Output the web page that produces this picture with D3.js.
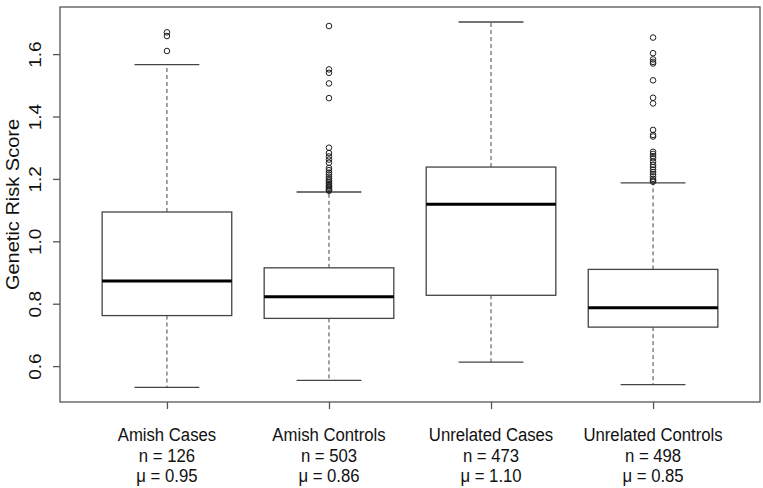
<!DOCTYPE html>
<html>
<head>
<meta charset="utf-8">
<script src="https://cdn.jsdelivr.net/npm/d3@7"></script>
<style>
  html, body { margin: 0; padding: 0; background: #fff; }
  svg { display: block; }
  text { font-family: "Liberation Sans", Arial, sans-serif; fill: #111; }
</style>
</head>
<body>
<svg id="chart" width="763" height="488"></svg>
<script>
// ---- data ----
const categories = ["Amish Cases", "Amish Controls", "Unrelated Cases", "Unrelated Controls"];
const nValues = [126, 503, 473, 498];
const meanValues = ["0.95", "0.86", "1.10", "0.85"];
const q1Values = [0.762, 0.753, 0.827, 0.725];
const medianValues = [0.873, 0.822, 1.119, 0.787];
const q3Values = [1.094, 0.915, 1.238, 0.910];
const whiskerLow = [0.532, 0.554, 0.613, 0.541];
const whiskerHigh = [1.566, 1.158, 1.703, 1.187];
const outliers = [
  [1.670, 1.658, 1.610],
  [1.690, 1.551, 1.540, 1.506, 1.459, 1.300, 1.283, 1.272, 1.262, 1.252, 1.235, 1.228,
   1.220, 1.214, 1.207, 1.200, 1.195, 1.190, 1.185, 1.180, 1.176, 1.172, 1.168, 1.165, 1.162],
  [],
  [1.653, 1.603, 1.583, 1.575, 1.570, 1.516, 1.460, 1.442, 1.357, 1.341, 1.336, 1.287,
   1.280, 1.273, 1.266, 1.255, 1.245, 1.238, 1.230, 1.222, 1.215, 1.208, 1.200, 1.195, 1.191]
];
const yTicks = [0.6, 0.8, 1.0, 1.2, 1.4, 1.6];
const yTitle = "Genetic Risk Score";

// ---- layout ----
const svg = d3.select("#chart");
const mLeft = 60, mRight = 760, mTop = 7, mBottom = 402;
const x = d3.scaleLinear().domain([0.34, 4.66]).range([mLeft, mRight]);
const y = d3.scaleLinear().domain([0.485, 1.751]).range([mBottom, mTop]);
const unit = x(2) - x(1);
const boxW = unit * 0.8;
const capW = boxW * 0.5;
const lineCol = "#444";
const squeeze = 0.88;

const groups = categories.map((c, i) => ({
  name: c, i: i + 1, n: nValues[i], mu: meanValues[i],
  q1: q1Values[i], med: medianValues[i], q3: q3Values[i],
  lo: whiskerLow[i], hi: whiskerHigh[i], out: outliers[i]
}));

const g = svg.append("g");

g.selectAll(".wh").data(groups).join("g").each(function(d) {
  const s = d3.select(this);
  const cx = x(d.i);
  s.append("line").attr("x1", cx).attr("x2", cx).attr("y1", y(d.q3)).attr("y2", y(d.hi))
    .attr("stroke", lineCol).attr("stroke-width", 1).attr("stroke-dasharray", "4,3");
  s.append("line").attr("x1", cx).attr("x2", cx).attr("y1", y(d.q1)).attr("y2", y(d.lo))
    .attr("stroke", lineCol).attr("stroke-width", 1).attr("stroke-dasharray", "4,3");
  s.append("line").attr("x1", cx - capW / 2).attr("x2", cx + capW / 2).attr("y1", y(d.hi)).attr("y2", y(d.hi))
    .attr("stroke", lineCol).attr("stroke-width", 1.3);
  s.append("line").attr("x1", cx - capW / 2).attr("x2", cx + capW / 2).attr("y1", y(d.lo)).attr("y2", y(d.lo))
    .attr("stroke", lineCol).attr("stroke-width", 1.3);
  s.append("rect").attr("x", cx - boxW / 2).attr("width", boxW)
    .attr("y", y(d.q3)).attr("height", y(d.q1) - y(d.q3))
    .attr("fill", "#fff").attr("stroke", lineCol).attr("stroke-width", 1.3);
  s.append("line").attr("x1", cx - boxW / 2).attr("x2", cx + boxW / 2).attr("y1", y(d.med)).attr("y2", y(d.med))
    .attr("stroke", "#000").attr("stroke-width", 3);
  s.selectAll("circle").data(d.out).join("circle")
    .attr("cx", cx).attr("cy", v => y(v)).attr("r", 2.8)
    .attr("fill", "none").attr("stroke", "#222").attr("stroke-width", 1);
});

// frame
g.append("rect").attr("x", mLeft).attr("y", mTop).attr("width", mRight - mLeft).attr("height", mBottom - mTop)
  .attr("fill", "none").attr("stroke", "#555").attr("stroke-width", 1.3);

// y axis
const yAxis = d3.axisLeft(y).tickValues(yTicks).tickFormat(d3.format(".1f")).tickSize(7).tickSizeOuter(0);
const ya = svg.append("g").attr("transform", `translate(${mLeft},0)`).call(yAxis);
ya.select(".domain").remove();
ya.selectAll(".tick line").attr("stroke", "#555").attr("stroke-width", 1.3);
ya.selectAll(".tick text").attr("font-size", 19).attr("x", null)
  .attr("text-anchor", "middle")
  .attr("transform", `translate(-25,0) rotate(-90) scale(1,${squeeze})`)
  .attr("y", 0).attr("dy", "0.35em")
  .style("font-family", "'Liberation Sans', Arial, sans-serif")
  .style("fill", "#111");

// x axis
const xAxis = d3.axisBottom(x).tickValues([1, 2, 3, 4]).tickFormat("").tickSize(7).tickSizeOuter(0);
const xa = svg.append("g").attr("transform", `translate(0,${mBottom})`).call(xAxis);
xa.select(".domain").remove();
xa.selectAll(".tick line").attr("stroke", "#555").attr("stroke-width", 1.3);

// category labels (3 lines)
const lab = svg.append("g").selectAll("text").data(groups).join("text")
  .attr("text-anchor", "middle").attr("font-size", 19)
  .attr("transform", d => `translate(${x(d.i)},0) scale(${squeeze},1)`);
lab.append("tspan").attr("x", 0).attr("y", 441).text(d => d.name);
lab.append("tspan").attr("x", 0).attr("y", 462).text(d => `n = ${d.n}`);
lab.append("tspan").attr("x", 0).attr("y", 482).text(d => `\u03bc = ${d.mu}`);

// y title
svg.append("text").attr("text-anchor", "middle").attr("font-size", 20)
  .attr("transform", `translate(13,${(mTop + mBottom) / 2}) rotate(-90) scale(1,${squeeze})`)
  .attr("dy", "0.35em")
  .text(yTitle);
</script>
</body>
</html>
